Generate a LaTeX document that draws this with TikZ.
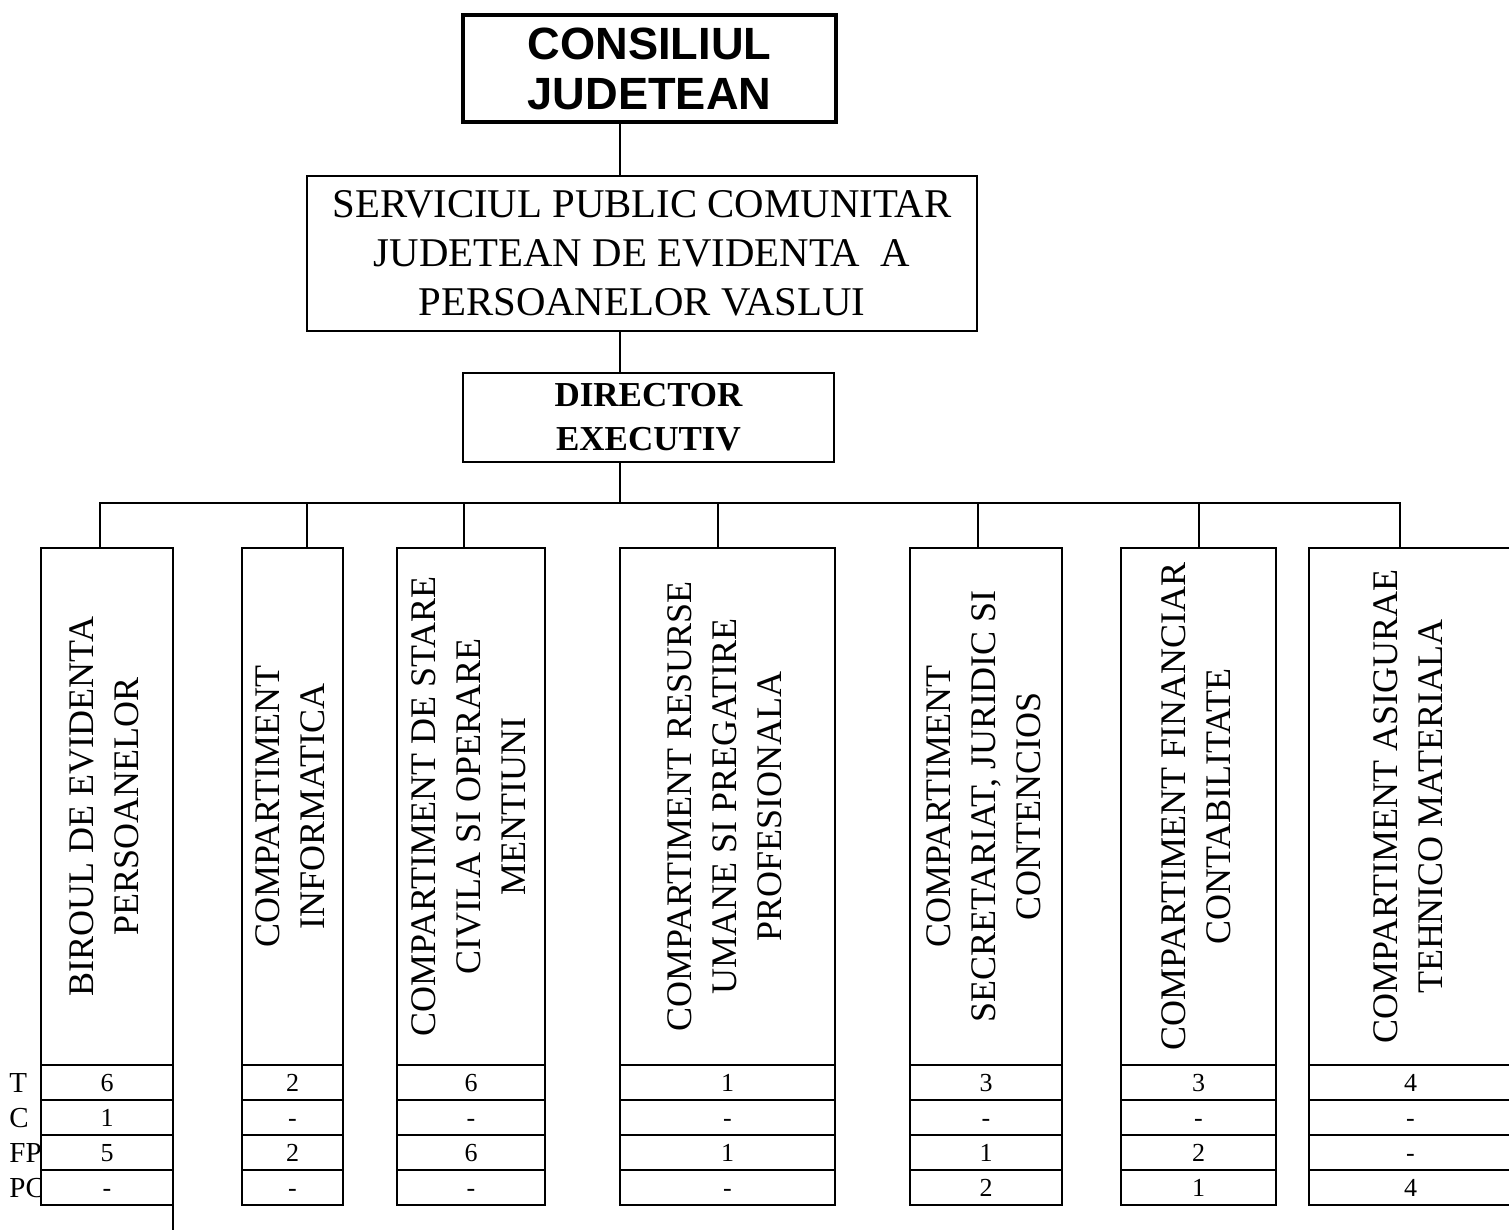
\documentclass[tikz,border=0pt]{standalone}
\usepackage{fontspec}
\setmainfont{Liberation Serif}
\newfontfamily\arialfont{Liberation Sans}
\usepackage{graphicx}
\usetikzlibrary{calc}

\newcommand{\coltext}[1]{\rotatebox{90}{\fontsize{18}{22.5}\selectfont\begin{tabular}{@{}c@{}}#1\end{tabular}}}

\tikzset{
  box/.style={draw,line width=1.4pt,fill=white,inner sep=0pt,outer sep=0pt,align=center},
  colbox/.style={box,minimum height=258.5pt},
  cell/.style={box,minimum height=17.5pt,text height=8.8pt,text depth=0pt,font=\fontsize{13}{15}\selectfont},
  link/.style={line width=1.4pt,line cap=rect},
}

\begin{document}
\begin{tikzpicture}[x=0.5pt,y=-0.5pt]
\useasboundingbox (0,0) rectangle (1509,1230);
% top of the chart
\node[box,line width=2.25pt,minimum width=186.5pt,minimum height=53.5pt,
      font=\arialfont\bfseries\fontsize{22.6}{25}\selectfont] (cj) at (649.5,68.5) {CONSILIUL\\JUDETEAN};
\node[box,minimum width=335pt,minimum height=77.5pt,font=\fontsize{20.4}{24.5}\selectfont]
      (sp) at (642,253.5) {SERVICIUL PUBLIC COMUNITAR\\JUDETEAN DE EVIDENTA\ \ A\\PERSOANELOR VASLUI};
\node[box,minimum width=185.5pt,minimum height=44.5pt,font=\bfseries\fontsize{17.5}{22}\selectfont]
      (dir) at (648.5,417.5) {DIRECTOR\\EXECUTIV};
\coordinate (spine) at (620,503);
\draw[link] (cj.south -| spine) -- (sp.north -| spine);
\draw[link] (sp.south -| spine) -- (dir.north -| spine);
\draw[link] (dir.south -| spine) -- (spine);

% row labels
\foreach \t [count=\r] in {T,C,FP,PC}
  \node[anchor=west,inner sep=0pt,text height=9.6pt,text depth=0pt,font=\fontsize{14.5}{16}\selectfont]
    (lab\r) at (9,1047.5+35*\r) {\t};

% compartments
\node[colbox,minimum width=66pt] (c1) at (107,806.5) {\coltext{BIROUL DE EVIDENTA\\PERSOANELOR}};
\node[colbox,minimum width=50.5pt] (c2) at (292.5,806.5) {\coltext{COMPARTIMENT\\INFORMATICA}};
\node[colbox,minimum width=74pt] (c3) at (471,806.5) {\coltext{COMPARTIMENT DE STARE\\CIVILA SI OPERARE\\MENTIUNI}};
\node[colbox,minimum width=107.5pt] (c4) at (727.5,806.5) {\coltext{COMPARTIMENT RESURSE\\UMANE SI PREGATIRE\\PROFESIONALA}};
\node[colbox,minimum width=76pt] (c5) at (986,806.5) {\coltext{COMPARTIMENT\\SECRETARIAT, JURIDIC SI\\CONTENCIOS}};
\node[colbox,minimum width=77.5pt] (c6) at (1198.5,806.5) {\coltext{COMPARTIMENT FINANCIAR\\CONTABILITATE}};
\node[colbox,minimum width=101.5pt] (c7) at (1410.5,806.5) {\coltext{COMPARTIMENT ASIGURAE\\TEHNICO MATERIALA}};

% T / C / FP / PC
\foreach \n/\cx/\w/\a/\b/\c/\d in {1/107/66/6/1/5/-,2/292.5/50.5/2/-/2/-,3/471/74/6/-/6/-,
    4/727.5/107.5/1/-/1/-,5/986/76/3/-/1/2,6/1198.5/77.5/3/-/2/1,7/1410.5/101.5/4/-/-/4}
  \foreach \v [count=\r] in {\a,\b,\c,\d}
    \node[cell,minimum width=\w pt] (c\n r\r) at (\cx,1047.5+35*\r) {\v};

% bus
\foreach \n/\dx in {1/100,2/307,3/464,4/718,5/978,6/1199,7/1400}{
  \coordinate (d\n) at (\dx,503);
  \draw[link] (d\n) -- (d\n |- c\n.north);
}
\draw[link] (d1) -- (d7);
\coordinate (tail) at (173,1235);
\draw[link] (c1r4.south east) -- (tail);
\end{tikzpicture}
\end{document}
